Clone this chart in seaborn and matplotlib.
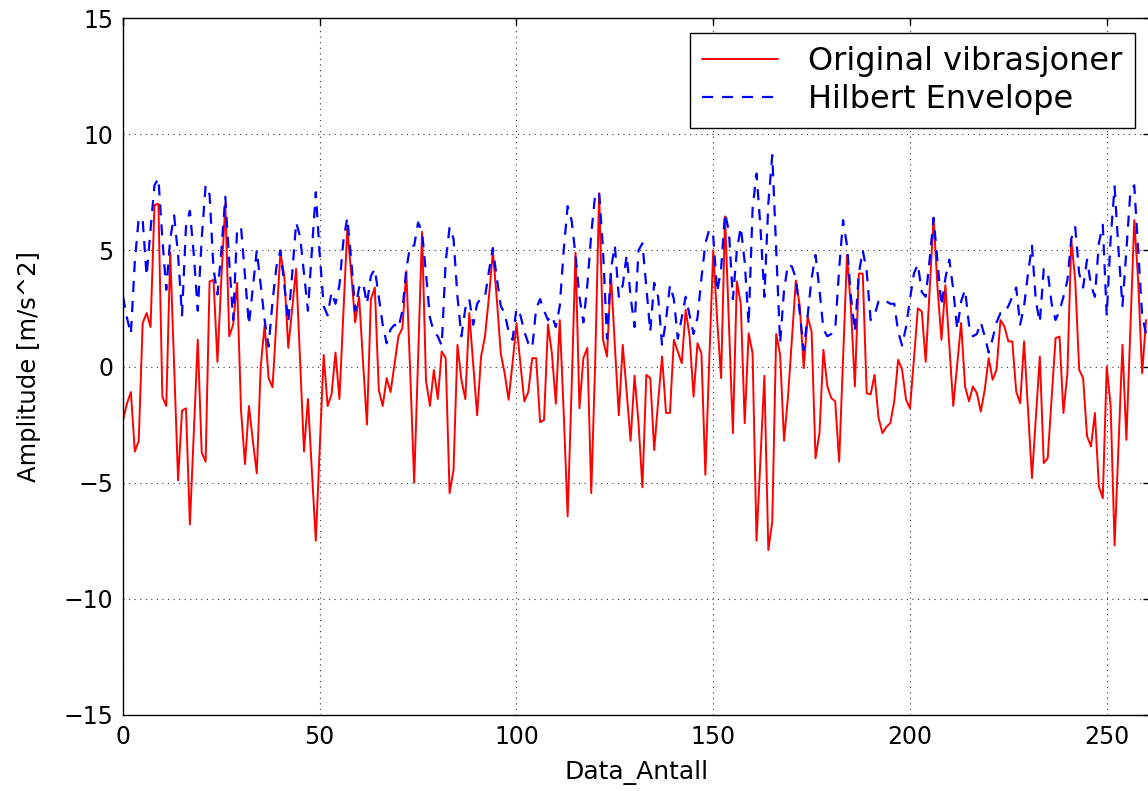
import numpy as np
import pandas as pd
import matplotlib
matplotlib.use("Agg")
import matplotlib.pyplot as plt
import seaborn as sns

# Vibration signal (m/s^2), one value per sample
vibrasjoner = [
    -2.3, -1.6, -1.1, -3.66, -3.2, 1.87, 2.3, 1.7, 6.95, 7.0,
    -1.3, -1.7, 4.9, 0.0, -4.9, -1.9, -1.8, -6.8, -2.8, 1.15,
    -3.7, -4.1, 3.66, 3.73, 0.2, 3.8, 7.0, 1.3, 1.8, 3.6,
    -1.9, -4.2, -1.7, -3.2, -4.6, 0.0, 1.8, -0.5, -0.9, 2.0,
    4.9, 3.9, 0.8, 2.5, 4.2, 0.3, -3.66, -1.4, -4.5, -7.5,
    -3.5, 0.5, -1.7, -1.2, 0.6, -1.4, 2.3, 5.95, 4.0, 1.9,
    3.0, 0.2, -2.5, 2.9, 3.4, -1.0, -1.7, -0.5, -1.1, 0.1,
    1.3, 1.65, 4.1, -0.3, -5.0, 0.4, 5.8, -0.6, -1.7, -0.15,
    -1.4, 0.65, 0.36, -5.45, -4.45, 0.93, -0.57, -1.4, 2.3, 0.1,
    -2.1, 0.43, 1.3, 3.0, 4.95, 2.9, 0.57, -0.3, -1.43, 0.15,
    1.87, 0.1, -1.5, -1.1, 0.36, 0.36, -2.4, -2.3, 1.8, 0.57,
    -1.6, 2.0, -2.0, -6.45, -1.0, 4.9, -1.8, 0.36, 0.8, -5.45,
    0.15, 7.46, 1.15, 0.43, 4.0, 0.9, -2.1, 0.93, -1.1, -3.2,
    -0.4, -2.4, -5.2, -0.36, -0.5, -3.6, -1.5, 0.43, -2.0, -2.0,
    1.15, 0.65, 0.14, 2.44, 1.3, -1.3, 1.0, 0.57, -4.66, 0.3,
    5.0, 2.0, -0.5, 6.46, 1.8, -2.87, 3.66, 2.7, -2.44, 1.43,
    0.57, -7.5, -4.0, -0.4, -7.9, -6.7, 1.4, 0.5, -3.2, -1.3,
    1.2, 3.7, 2.6, -0.07, 2.15, 1.5, -3.95, -2.87, 0.72, -0.86,
    -1.36, -1.5, -4.1, 0.3, 4.8, 2.5, -0.86, 4.0, 4.0, -1.15,
    -1.2, -0.36, -2.2, -2.87, -2.6, -2.44, -1.5, 0.29, -0.14, -1.43,
    -1.8, 0.3, 2.5, 2.37, 0.2, 3.3, 6.4, 3.4, 1.15, 3.5,
    0.9, -1.7, 0.1, 1.87, -0.86, -1.5, -0.86, -1.15, -1.94, -1.0,
    0.36, -0.57, -0.14, 2.0, 1.72, 1.08, 1.08, -1.08, -1.58, 1.08,
    -1.9, -4.8, -2.2, 0.43, -4.16, -3.95, -1.4, 1.22, 1.29, -2.0,
    -0.3, 5.45, 3.7, -0.14, -0.5, -3.0, -3.44, -2.0, -5.16, -5.67,
    0.0, -1.7, -7.7, -3.4, 0.93, -3.16, 1.6, 6.3, 3.66, -0.29,
    2.0,
]

# Envelope of the same signal
envelope = [
    3.0, 2.1, 1.4, 4.5, 6.4, 6.3, 3.9, 5.9, 7.8, 8.1,
    5.5, 3.3, 5.5, 6.5, 4.8, 2.2, 6.0, 6.7, 4.8, 2.4,
    5.5, 7.8, 7.4, 4.2, 3.1, 5.0, 7.3, 4.5, 2.0, 5.9,
    6.0, 3.9, 1.8, 3.4, 5.0, 3.5, 2.0, 0.86, 2.8, 4.3,
    5.0, 3.5, 1.9, 4.0, 6.2, 5.6, 4.0, 2.4, 5.0, 7.5,
    4.8, 2.6, 2.2, 3.2, 2.7, 3.5, 5.4, 6.4, 4.6, 2.4,
    3.4, 3.6, 2.7, 3.9, 4.2, 3.0, 1.8, 1.0, 1.6, 1.8,
    1.65, 2.4, 4.2, 5.2, 5.2, 6.2, 5.8, 4.0, 2.1, 1.5,
    1.3, 0.9, 4.5, 6.0, 5.5, 3.0, 1.3, 2.5, 2.9, 1.8,
    2.7, 2.95, 3.0, 4.1, 5.1, 3.8, 2.6, 2.3, 1.5, 1.15,
    2.5, 2.2, 1.5, 1.0, 0.8, 2.5, 2.9, 2.4, 2.0, 2.2,
    1.7, 2.6, 5.0, 6.9, 6.3, 4.8, 3.0, 1.9, 3.5, 5.7,
    7.4, 7.5, 5.0, 1.2, 4.2, 5.2, 3.0, 3.5, 4.8, 3.0,
    1.7, 5.0, 5.3, 3.4, 1.5, 3.6, 3.0, 0.9, 2.0, 3.5,
    2.9, 1.2, 2.1, 3.0, 2.2, 1.4, 2.1, 3.8, 5.3, 5.9,
    5.6, 3.2, 4.2, 6.6, 5.8, 2.9, 5.0, 6.0, 4.5, 1.8,
    6.8, 8.3, 6.0, 3.0, 7.0, 9.1, 5.0, 1.0, 3.3, 4.4,
    4.3, 3.8, 2.3, 0.7, 2.2, 3.8, 4.8, 3.3, 1.6, 1.3,
    1.4, 1.6, 4.2, 6.3, 5.2, 3.0, 1.5, 4.0, 5.0, 4.1,
    2.0, 2.2, 2.8, 2.9, 2.8, 2.7, 2.7, 1.5, 0.9, 1.7,
    2.9, 4.0, 4.4, 3.2, 3.0, 4.6, 6.4, 4.5, 2.6, 3.8,
    4.6, 3.3, 1.6, 2.8, 3.3, 1.8, 1.3, 1.4, 1.9, 1.3,
    0.6, 1.2, 1.9, 2.3, 2.3, 2.6, 3.0, 3.4, 1.8, 2.6,
    4.0, 5.2, 2.8, 1.9, 4.2, 4.1, 2.7, 2.0, 2.4, 3.0,
    3.7, 5.5, 6.0, 4.0, 3.4, 4.6, 3.5, 3.0, 5.3, 6.1,
    2.2, 5.5, 7.75, 5.0, 2.6, 5.0, 7.5, 7.8, 5.0, 2.2,
    1.4,
]

x_ticks = [0, 50, 100, 150, 200, 250]
y_ticks = [-15, -10, -5, 0, 5, 10, 15]

df = pd.DataFrame({
    "Data_Antall": np.arange(len(vibrasjoner)),
    "vib": vibrasjoner,
    "env": envelope,
})

sns.set_style("white")
plt.rcParams["font.family"] = ["DejaVu Sans"]
plt.rcParams["text.color"] = "black"
plt.rcParams["axes.labelcolor"] = "black"

fig = plt.figure(figsize=(11.48, 7.91), dpi=100)
ax = fig.add_axes([123 / 1148, 76 / 791, 1027 / 1148, 697 / 791])

sns.lineplot(data=df, x="Data_Antall", y="vib", ax=ax, color="#ff0000",
             linewidth=1.4, label="Original vibrasjoner", legend=False)
sns.lineplot(data=df, x="Data_Antall", y="env", ax=ax, color="#0000ff",
             linewidth=1.6, label="Hilbert Envelope", legend=False)
ax.lines[1].set_dashes((5, 4))

ax.set_xlim(0, 261)
ax.set_ylim(-15, 15)
ax.set_xticks(x_ticks)
ax.set_yticks(y_ticks)
ax.set_yticklabels([f"\u2212{abs(v)}" if v < 0 else str(v) for v in y_ticks])

ax.grid(True, color="black", linestyle=(0, (1, 4)), linewidth=0.8, alpha=0.8)
for s in ax.spines.values():
    s.set_color("black")
    s.set_linewidth(1.0)
ax.tick_params(direction="in", length=5, width=1, top=True, right=True,
               labelsize=17, colors="black", pad=7)

ax.set_xlabel("Data_Antall", fontsize=18, labelpad=8)
ax.set_ylabel("Amplitude [m/s^2]", fontsize=17.5, labelpad=16)

leg = ax.legend(loc="upper right", bbox_to_anchor=(1135 / 1148, 758 / 791),
                bbox_transform=fig.transFigure, borderaxespad=0,
                fontsize=23, frameon=True, fancybox=False, framealpha=1,
                edgecolor="black", handlelength=2.35, borderpad=0.4,
                labelspacing=0.22, handletextpad=0.95)
leg.get_frame().set_linewidth(1.0)

fig.savefig("out.png", dpi=100)
